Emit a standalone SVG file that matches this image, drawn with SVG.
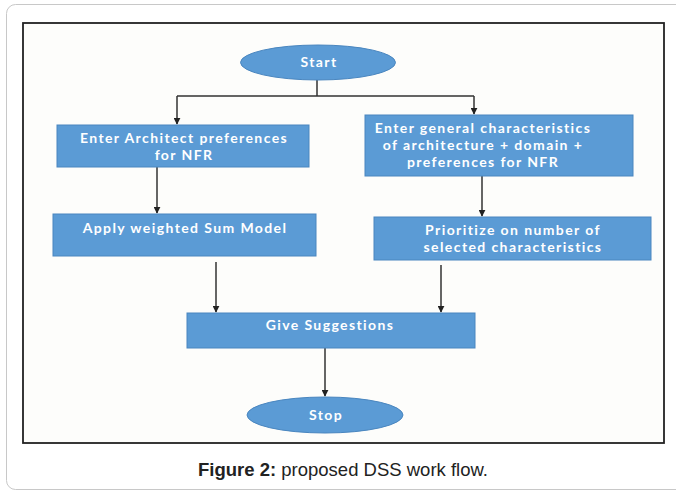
<svg xmlns="http://www.w3.org/2000/svg" width="676" height="492" viewBox="0 0 676 492">
<defs>
<marker id="ah" viewBox="0 0 10 10" refX="9" refY="5" markerWidth="7" markerHeight="7" markerUnits="userSpaceOnUse" orient="auto"><path d="M0,0 L10,5 L0,10 z" fill="#222"/></marker>
<style>
.box{fill:#5b9bd5;stroke:#4a86bf;stroke-width:1}
.t{font-family:Lato,"Open Sans","Liberation Sans",sans-serif;font-size:14px;font-weight:700;letter-spacing:1.4px;fill:#fff;text-anchor:middle}
.c{stroke:#333;stroke-width:1.5;fill:none}
.ca{stroke:#333;stroke-width:1.5;fill:none;marker-end:url(#ah)}
</style>
</defs>
<rect x="0" y="0" width="676" height="492" fill="#fff"/>
<rect x="6.5" y="4.5" width="690" height="485" rx="9" fill="#fff" stroke="#c8c8c8" stroke-width="1"/>
<rect x="23" y="23" width="641" height="420" fill="#fdfdfb" stroke="#222" stroke-width="1.8"/>
<g id="connectors">
<path class="c" d="M317,80 V96 M177,96 H474"/>
<path class="ca" d="M177,96 V124"/>
<path class="ca" d="M474,96 V114"/>
<path class="ca" d="M157,167 V213"/>
<path class="ca" d="M482,176 V216"/>
<path class="ca" d="M216,262 V312"/>
<path class="ca" d="M441,265 V312"/>
<path class="ca" d="M325,348 V396"/>
</g>
<g id="start"><ellipse class="box" cx="318" cy="62.5" rx="77.5" ry="17.5"/><text class="t" x="319" y="67">Start</text></g>
<g id="enter-arch"><rect class="box" x="57" y="125" width="252" height="42"/><text class="t" x="184" y="143">Enter Architect preferences</text><text class="t" x="184" y="160">for NFR</text></g>
<g id="enter-general"><rect class="box" x="365" y="115" width="268" height="61"/><text class="t" x="483" y="133">Enter general characteristics</text><text class="t" x="483" y="150">of architecture + domain +</text><text class="t" x="483" y="167">preferences for NFR</text></g>
<g id="apply-wsm"><rect class="box" x="53" y="214" width="263" height="42"/><text class="t" x="185" y="233">Apply weighted Sum Model</text></g>
<g id="prioritize"><rect class="box" x="374" y="217" width="277" height="43"/><text class="t" x="513" y="235">Prioritize on number of</text><text class="t" x="513" y="252">selected characteristics</text></g>
<g id="give-suggestions"><rect class="box" x="187" y="313" width="288" height="35"/><text class="t" x="330" y="330">Give Suggestions</text></g>
<g id="stop"><ellipse class="box" cx="325" cy="415" rx="78" ry="18"/><text class="t" x="326" y="420">Stop</text></g>
<text x="198" y="476" textLength="290" lengthAdjust="spacingAndGlyphs" font-family="'Liberation Sans',Arial,sans-serif" font-size="19" fill="#222"><tspan font-weight="bold">Figure 2:</tspan> proposed DSS work flow.</text>
</svg>
